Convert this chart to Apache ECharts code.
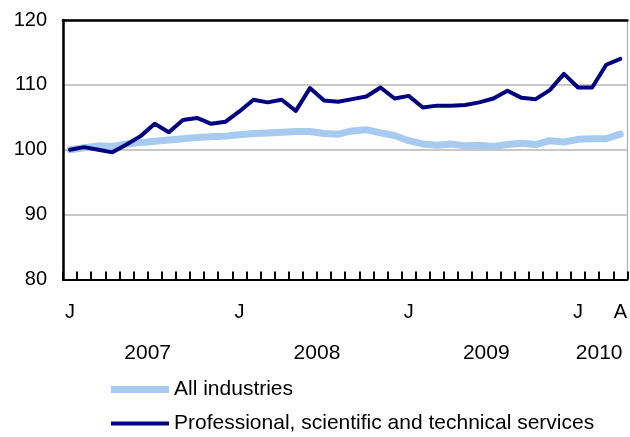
<!DOCTYPE html>
<html>
<head>
<meta charset="utf-8">
<script src="https://cdn.jsdelivr.net/npm/echarts@6/dist/echarts.min.js"></script>
<style>html,body{margin:0;padding:0;background:#fff;}#c{width:630px;height:437px;}</style>
</head>
<body>
<div id="c"></div>
<script>
// Monthly categories Jan 2007 – Apr 2010
const months = [
  '2007-01','2007-02','2007-03','2007-04','2007-05','2007-06','2007-07','2007-08','2007-09','2007-10','2007-11','2007-12',
  '2008-01','2008-02','2008-03','2008-04','2008-05','2008-06','2008-07','2008-08','2008-09','2008-10','2008-11','2008-12',
  '2009-01','2009-02','2009-03','2009-04','2009-05','2009-06','2009-07','2009-08','2009-09','2009-10','2009-11','2009-12',
  '2010-01','2010-02','2010-03','2010-04'
];
// Tick labels shown under the axis (index -> label)
const monthLabels = {0:'J', 12:'J', 24:'J', 36:'J', 39:'A'};
const years = ['2007','2008','2009','2010'];
const yearCenters = [6, 18, 30, 38];
const yTicks = [80, 90, 100, 110, 120];
const seriesNames = ['All industries', 'Professional, scientific and technical services'];

const allIndustries = [
  100.0,100.3,100.6,100.5,100.9,101.1,101.3,101.5,101.7,101.9,102.0,102.1,
  102.3,102.5,102.6,102.7,102.8,102.8,102.5,102.4,102.9,103.1,102.6,102.2,
  101.4,100.9,100.7,100.9,100.6,100.7,100.5,100.8,101.0,100.8,101.4,101.2,
  101.6,101.7,101.7,102.4
];
const professional = [
  100.0,100.4,100.0,99.6,100.8,102.1,104.0,102.7,104.6,104.9,104.0,104.3,
  105.9,107.7,107.3,107.7,106.0,109.5,107.6,107.4,107.8,108.2,109.6,107.9,
  108.3,106.5,106.8,106.8,106.9,107.3,107.9,109.1,108.0,107.8,109.2,111.7,
  109.6,109.6,113.1,114.0
];

const font = 'Liberation Sans, Arial, Helvetica, sans-serif';
const legendBase = {
  orient: 'horizontal', left: 106, itemWidth: 58, itemHeight: 14,
  symbolKeepAspect: true,
  textStyle: {fontSize: 21, color: '#000', fontFamily: font}
};
const chart = echarts.init(document.getElementById('c'), null, {renderer: 'canvas'});
chart.setOption({
  animation: false,
  textStyle: {fontFamily: font},
  grid: {left: 63, right: 1, top: 20, bottom: 157.5, show: true, borderColor: '#a0a0a0', borderWidth: 1, containLabel: false},
  legend: [
    Object.assign({}, legendBase, {top: 374, data: [{name: seriesNames[0], icon: 'path://M0,0H58V7H0Z'}]}),
    Object.assign({}, legendBase, {top: 408, data: [{name: seriesNames[1], icon: 'path://M0,0H58V4H0Z'}]})
  ],
  xAxis: [
    {
      type: 'category', data: months, boundaryGap: true, position: 'bottom',
      axisLine: {show: true, lineStyle: {color: '#000', width: 2}},
      axisTick: {show: true, inside: true, length: 8, interval: 0, lineStyle: {color: '#000', width: 2}},
      axisLabel: {
        interval: 0, margin: 23, fontSize: 20, color: '#000', fontFamily: font,
        formatter: (v, i) => monthLabels[i] || ''
      },
      splitLine: {show: false}
    },
    {
      type: 'value', min: 0, max: months.length, position: 'bottom',
      axisLine: {show: false}, axisTick: {show: false}, splitLine: {show: false},
      axisLabel: {
        show: true, margin: 63, fontSize: 21, color: '#000', fontFamily: font,
        customValues: yearCenters,
        formatter: (v) => years[yearCenters.indexOf(v)] || ''
      }
    },
    {
      type: 'category', data: months, position: 'top',
      axisLine: {show: true, lineStyle: {color: '#000', width: 2.5}},
      axisTick: {show: false}, axisLabel: {show: false}, splitLine: {show: false}
    }
  ],
  yAxis: {
    type: 'value', min: yTicks[0], max: yTicks[yTicks.length - 1], interval: 10,
    axisLine: {show: true, lineStyle: {color: '#000', width: 2.5}},
    axisTick: {show: false},
    axisLabel: {fontSize: 20, color: '#000', margin: 16, fontFamily: font},
    splitLine: {show: true, lineStyle: {color: '#c8c8c8', width: 2}}
  },
  series: [
    {
      name: seriesNames[0], type: 'line', data: allIndustries,
      symbol: 'none', showSymbol: false,
      lineStyle: {color: '#a6caf0', width: 7, cap: 'round', join: 'round'},
      itemStyle: {color: '#a6caf0'}
    },
    {
      name: seriesNames[1], type: 'line', data: professional,
      symbol: 'none', showSymbol: false,
      lineStyle: {color: '#000080', width: 4, cap: 'round', join: 'round'},
      itemStyle: {color: '#000080'}
    }
  ]
});
</script>
</body>
</html>
